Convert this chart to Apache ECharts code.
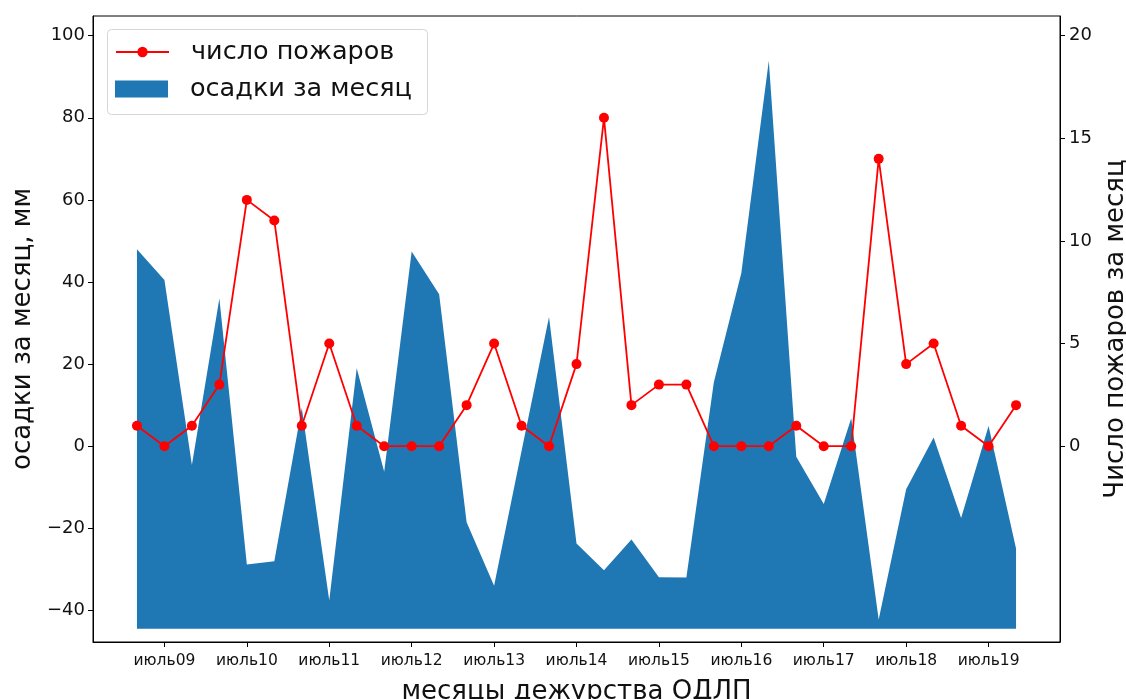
<!DOCTYPE html>
<html>
<head>
<meta charset="utf-8">
<script src="https://cdn.jsdelivr.net/npm/echarts@6/dist/echarts.min.js"></script>
<style>
html,body{margin:0;padding:0;background:#fff;}
#c{width:1126px;height:699px;}
</style>
</head>
<body>
<div id="c"></div>
<script>
// x positions are indices 0..32 (three summer months per year, 2009-2019)
const tickLabels = ['июль09','июль10','июль11','июль12','июль13','июль14','июль15','июль16','июль17','июль18','июль19'];
const tickPositions = [1,4,7,10,13,16,19,22,25,28,31];
const precipitation = [48, 40.5, -4.6, 36, -28.8, -28, 9.3, -37.6, 19, -6.2,
  47.4, 37, -18.5, -34, -1.2, 31.5, -23.7, -30.2, -22.7, -31.9,
  -32, 15.6, 42.2, 93.9, -2.6, -14.1, 6.8, -42.2, -10.5, 2.1,
  -17.5, 4.9, -24.9];
const fires = [1, 0, 1, 3, 12, 11, 1, 5, 1, 0,
  0, 0, 2, 5, 1, 0, 4, 16, 2, 3,
  3, 0, 0, 0, 1, 0, 0, 14, 4, 5,
  1, 0, 2];
const leftTicks = [-40,-20,0,20,40,60,80,100];
const rightTicks = [0,5,10,15,20];
const areaBase = -44.5;

const FONT = 'DejaVu Sans';
const precipData = precipitation.map((v,i)=>[i,v]);
const fireData = fires.map((v,i)=>[i,v]);

const chart = echarts.init(document.getElementById('c'), null, {renderer:'canvas'});
const minus = s => String(s).replace('-', '\u2212');

chart.setOption({
  animation:false,
  backgroundColor:'#fff',
  grid:{left:93, right:66, top:16, bottom:57, show:true, borderColor:'#000', borderWidth:1,
    backgroundColor:'transparent', outerBoundsMode:'none', containLabel:false},
  xAxis:{
    type:'value', min:-1.6, max:33.6,
    axisLine:{show:true, onZero:false, lineStyle:{color:'#000', width:1}},
    axisTick:{show:true, length:5, customValues:tickPositions, lineStyle:{color:'#000'}},
    axisLabel:{show:true, customValues:tickPositions, margin:11, color:'#111', fontFamily:FONT, fontSize:15.5,
      formatter:(v)=>{const k=tickPositions.indexOf(Math.round(v)); return k>=0?tickLabels[k]:'';}},
    splitLine:{show:false},
    name:'месяцы дежурства ОДЛП', nameLocation:'middle', nameGap:37,
    nameTextStyle:{fontFamily:FONT, fontSize:26, color:'#111'}
  },
  yAxis:[{
    type:'value', min:-47.7, max:104.8,
    axisLine:{show:true, onZero:false, lineStyle:{color:'#000'}},
    axisTick:{show:true, length:5, customValues:leftTicks, lineStyle:{color:'#000'}},
    axisLabel:{show:true, customValues:leftTicks, margin:8, color:'#111', fontFamily:FONT, fontSize:18,
      formatter:(v)=>minus(v)},
    splitLine:{show:false},
    name:'осадки за месяц, мм', nameLocation:'middle', nameRotate:90, nameGap:56,
    nameTextStyle:{fontFamily:FONT, fontSize:26, color:'#111'}
  },{
    type:'value', min:-9.54, max:20.96, position:'right',
    axisLine:{show:true, onZero:false, lineStyle:{color:'#000'}},
    axisTick:{show:true, length:5, customValues:rightTicks, lineStyle:{color:'#000'}},
    axisLabel:{show:true, customValues:rightTicks, margin:9, color:'#111', fontFamily:FONT, fontSize:18},
    splitLine:{show:false},
    name:'Число пожаров за месяц', nameLocation:'middle', nameRotate:90, nameGap:37,
    nameTextStyle:{fontFamily:FONT, fontSize:26, color:'#111'}
  }],
  graphic:[{
    type:'rect', left:107, top:29, z:3,
    shape:{width:320, height:85, r:4},
    style:{fill:'rgba(255,255,255,0.8)', stroke:'#d6d6d6', lineWidth:1}
  }],
  legend:[{
    left:115, top:39, padding:0, orient:'vertical',
    itemWidth:53, itemHeight:13,
    data:[{name:'число пожаров'}],
    textStyle:{fontFamily:FONT, fontSize:25.5, color:'#111', lineHeight:26, padding:[0,0,0,17]}
  },{
    left:115, top:76, padding:0, orient:'vertical',
    itemWidth:53, itemHeight:17,
    data:[{name:'осадки за месяц', icon:'rect', itemStyle:{color:'#1f77b4'}}],
    textStyle:{fontFamily:FONT, fontSize:25.5, color:'#111', lineHeight:26, padding:[0,0,0,17]}
  }],
  series:[{
    name:'осадки за месяц', type:'line', xAxisIndex:0, yAxisIndex:0,
    data:precipData, symbol:'none', z:1,
    lineStyle:{width:0, color:'#1f77b4'},
    itemStyle:{color:'#1f77b4'},
    areaStyle:{origin:areaBase, color:'#1f77b4', opacity:1}
  },{
    name:'число пожаров', type:'line', xAxisIndex:0, yAxisIndex:1,
    data:fireData, symbol:'circle', symbolSize:10, z:2,
    lineStyle:{width:1.8, color:'#ff0000'},
    itemStyle:{color:'#ff0000'}
  }]
});
</script>
</body>
</html>
